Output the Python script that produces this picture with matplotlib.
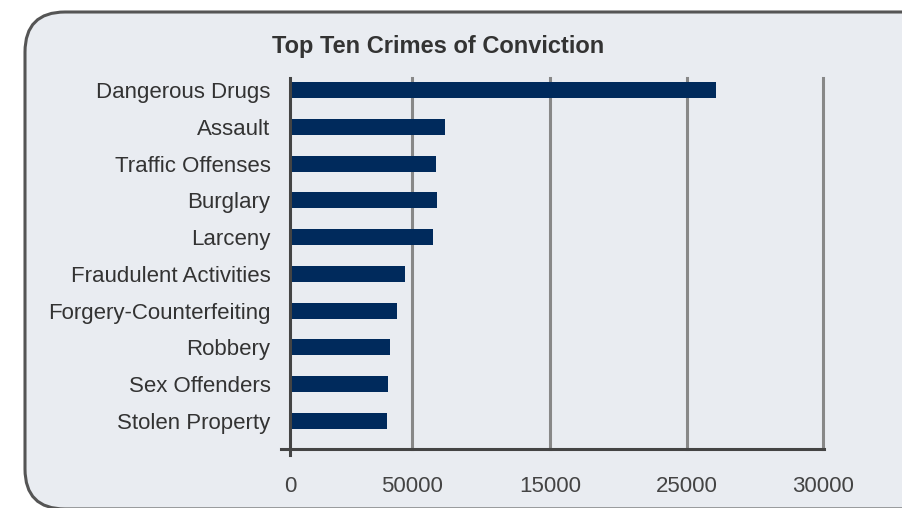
import matplotlib
matplotlib.use('Agg')
import matplotlib.pyplot as plt
from matplotlib.patches import FancyBboxPatch
from matplotlib.transforms import IdentityTransform

plt.rcParams['font.family'] = ['Liberation Sans', 'DejaVu Sans']

# datos
crimenes = ['Dangerous Drugs', 'Assault', 'Traffic Offenses', 'Burglary', 'Larceny',
            'Fraudulent Activities', 'Forgery-Counterfeiting', 'Robbery',
            'Sex Offenders', 'Stolen Property']
condenas = [24000, 8720, 8220, 8270, 8050, 6470, 6020, 5630, 5520, 5460]

# el eje original tiene etiquetas raras, se copian tal cual
ticks_pos = [0, 6850, 14660, 22350, 30000]
ticks_txt = ['0', '50000', '15000', '25000', '30000']

fondo = '#e9ecf1'
azul = '#002a5c'

fig = plt.figure(figsize=(9.02, 5.08), dpi=100)
fig.patch.set_facecolor('white')

# panel redondeado de fondo (coordenadas en pixeles)
panel = FancyBboxPatch((25, -1), 940, 497, boxstyle='round,pad=0,rounding_size=40',
                       transform=IdentityTransform(), facecolor=fondo,
                       edgecolor='#555555', linewidth=2.2, zorder=-10)
fig.patches.append(panel)

ax = fig.add_axes([290 / 902, 1 - 448.6 / 508, 533 / 902, (448.6 - 78) / 508])
ax.set_zorder(5)
ax.patch.set_alpha(0)

pos = list(range(len(crimenes)))
ax.barh(pos, condenas, height=0.435, color=azul, zorder=3)

ax.set_xlim(0, 30000)
ax.set_ylim(9.75, -0.33)
ax.set_yticks(pos)
ax.set_yticklabels(crimenes, fontsize=16, color='#333333')
ax.set_xticks(ticks_pos)
ax.set_xticklabels(ticks_txt, fontsize=16, color='#444444')
ax.tick_params(axis='y', length=0, pad=14)
ax.tick_params(axis='x', length=0, pad=20)

for x in ticks_pos[1:]:
    ax.axvline(x, color='#888888', linewidth=2.2, zorder=1, clip_on=False)

for s in ['top', 'right', 'left', 'bottom']:
    ax.spines[s].set_visible(False)

# ejes dibujados a mano para que sobresalgan un poco
ax.plot([0, 0], [-0.018, 1], transform=ax.transAxes, color='#444444',
        linewidth=2.2, clip_on=False, zorder=4)
ax.plot([-0.017, 1.002], [0, 0], transform=ax.transAxes, color='#444444',
        linewidth=2.2, clip_on=False, zorder=4)

fig.text(438 / 902, 1 - 46 / 508, 'Top Ten Crimes of Conviction', ha='center',
         va='center', fontsize=17, fontweight='bold', color='#333333')

fig.savefig('out.png', dpi=100)
